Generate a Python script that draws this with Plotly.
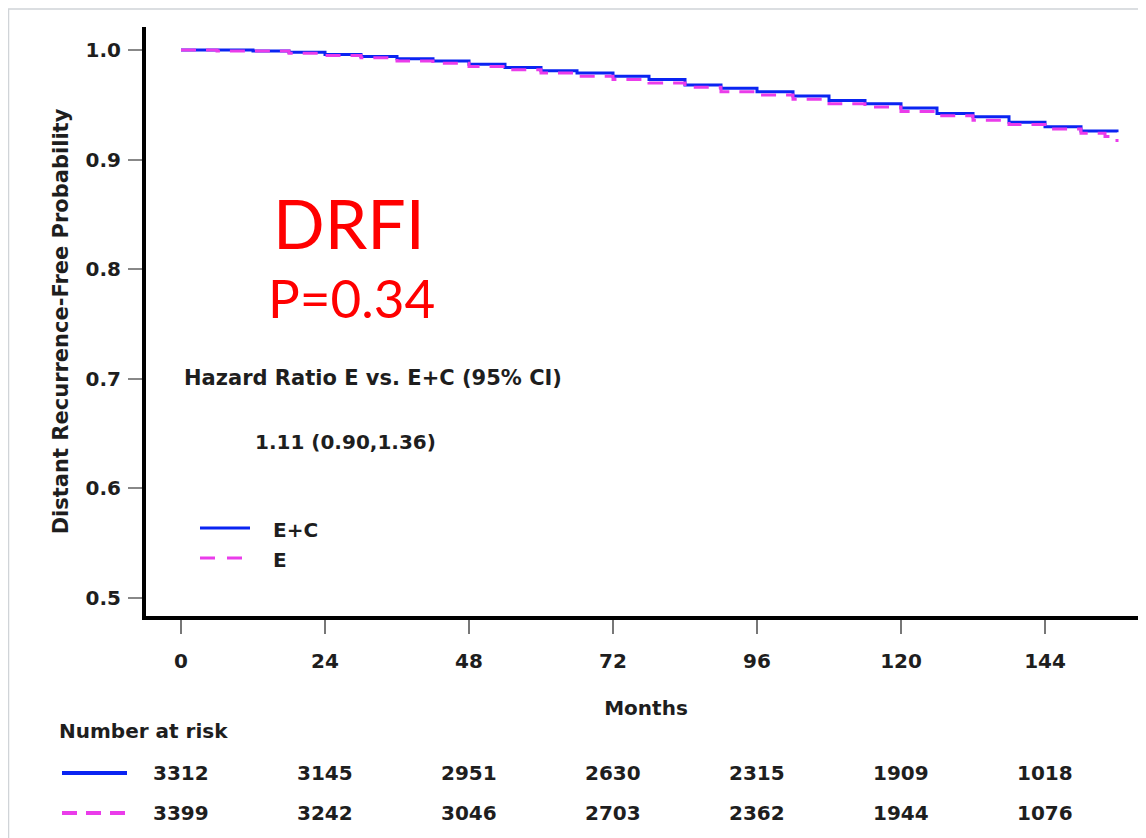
import plotly.graph_objects as go

# ---------------- data ----------------
months_ec = [0, 6, 12, 18, 24, 30, 36, 42, 48, 54, 60, 66, 72, 78, 84, 90, 96, 102, 108, 114, 120, 126, 132, 138, 144, 150, 156]
surv_ec = [1.000, 1.000, 0.999, 0.998, 0.996, 0.994, 0.992, 0.990, 0.987, 0.984, 0.981, 0.979, 0.976, 0.973,
           0.968, 0.965, 0.962, 0.958, 0.954, 0.951, 0.947, 0.942, 0.939, 0.934, 0.930, 0.926, 0.925]

months_e = [0, 6, 12, 18, 24, 30, 36, 42, 48, 54, 60, 66, 72, 78, 84, 90, 96, 102, 108, 114, 120, 126, 132, 138, 144, 150, 154, 156]
surv_e = [1.000, 0.999, 0.999, 0.997, 0.995, 0.993, 0.990, 0.988, 0.985, 0.982, 0.979, 0.976, 0.973, 0.970,
          0.966, 0.962, 0.959, 0.955, 0.951, 0.948, 0.944, 0.940, 0.936, 0.932, 0.928, 0.924, 0.921, 0.916]

risk_months = [0, 24, 48, 72, 96, 120, 144]
risk_ec = [3312, 3145, 2951, 2630, 2315, 1909, 1018]
risk_e = [3399, 3242, 3046, 2703, 2362, 1944, 1076]

x_ticks = [0, 24, 48, 72, 96, 120, 144]
y_ticks = [0.5, 0.6, 0.7, 0.8, 0.9, 1.0]

BLUE = "#0a24f2"
MAGENTA = "#ea3cea"
TXT = "#1e1e1e"
FONT = "DejaVu Sans"
FS = 20

OFF = 8                      # page body margin
W, H = 1146 - OFF, 838 - OFF
ML, MR, MT, MB = 146 - OFF, 0, 27 - OFF, 838 - 616
PW, PH = W - ML - MR, H - MT - MB


def px(xp):
    return (xp - OFF - ML) / PW


def py(yp):
    return (H - MB - (yp - OFF)) / PH


def txt(s, x, y, size=FS, xanchor="left", color=TXT, family=FONT, bold=True, xref="paper"):
    return dict(text=f"<b>{s}</b>" if bold else s, x=x, y=y, xref=xref, yref="paper", showarrow=False,
                font=dict(family=family, size=size, color=color), xanchor=xanchor, yanchor="middle")


fig = go.Figure()
fig.add_trace(go.Scatter(x=months_ec, y=surv_ec, mode="lines", name="E+C", showlegend=False,
                         line=dict(color=BLUE, width=3, shape="hv")))
fig.add_trace(go.Scatter(x=months_e, y=surv_e, mode="lines", name="E", showlegend=False,
                         line=dict(color=MAGENTA, width=3, shape="hv", dash="15px,10px")))

annotations = [
    txt("DRFI", px(349), py(222), size=68, xanchor="center", color="#ff0000", family="Lato", bold=False),
    txt("P=0.34", px(351), py(297), size=53, xanchor="center", color="#ff0000", family="Lato", bold=False),
    txt("Hazard Ratio E vs. E+C (95% CI)", px(182), py(378), size=21),
    txt("1.11 (0.90,1.36)", px(253), py(442)),
    txt("E+C", px(271), py(530)),
    txt("E", px(271), py(560)),
    txt("Number at risk", px(57), py(731)),
]
for m, v in zip(risk_months, risk_ec):
    annotations.append(txt(v, m, py(773), xanchor="center", xref="x"))
for m, v in zip(risk_months, risk_e):
    annotations.append(txt(v, m, py(813), xanchor="center", xref="x"))

shapes = [
    # page border (top and left edges visible)
    dict(type="rect", xref="paper", yref="paper", x0=px(8.5), x1=px(1170), y0=py(870), y1=py(9),
         line=dict(color="#d0d4d8", width=1.5), layer="below"),
    # legend keys
    dict(type="line", xref="paper", yref="paper", x0=px(200), x1=px(250), y0=py(528), y1=py(528),
         line=dict(color=BLUE, width=3)),
    dict(type="line", xref="paper", yref="paper", x0=px(200), x1=px(242), y0=py(558), y1=py(558),
         line=dict(color=MAGENTA, width=3, dash="15px,12px")),
    # risk-table line keys
    dict(type="line", xref="paper", yref="paper", x0=px(62), x1=px(127), y0=py(773), y1=py(773),
         line=dict(color=BLUE, width=4)),
    dict(type="line", xref="paper", yref="paper", x0=px(62), x1=px(127), y0=py(813), y1=py(813),
         line=dict(color=MAGENTA, width=4, dash="15px,9px")),
]

fig.update_layout(
    width=W, height=H,
    margin=dict(l=ML, r=MR, t=MT, b=MB, pad=0),
    paper_bgcolor="white", plot_bgcolor="white",
    showlegend=False,
    annotations=annotations,
    shapes=shapes,
    font=dict(family=FONT, color=TXT),
)

fig.update_xaxes(
    range=[(146 - 181) / 6, (1146 - 181) / 6], tickvals=x_ticks, ticktext=[f"<b>{t}</b>" for t in x_ticks],
    showgrid=False, zeroline=False, showline=True, linecolor="black", linewidth=4,
    ticks="outside", ticklen=14, tickwidth=2, tickcolor="#777777",
    tickfont=dict(family=FONT, size=FS, color=TXT), ticklabelstandoff=10,
    title=dict(text="<b>Months</b>", font=dict(family=FONT, size=FS, color=TXT), standoff=30),
)
fig.update_yaxes(
    range=[1 - (616 - 50) / 1096, 1 + (50 - 27) / 1096], tickvals=y_ticks,
    ticktext=[f"<b>{t:.1f}</b>" for t in y_ticks],
    showgrid=False, zeroline=False, showline=True, linecolor="black", linewidth=4,
    ticks="outside", ticklen=14, tickwidth=2, tickcolor="#888888",
    tickfont=dict(family=FONT, size=FS, color=TXT), ticklabelstandoff=3,
    title=dict(text="<b>Distant Recurrence-Free Probability</b>", font=dict(family=FONT, size=21, color=TXT),
               standoff=12),
)

fig.write_html("out.html")
